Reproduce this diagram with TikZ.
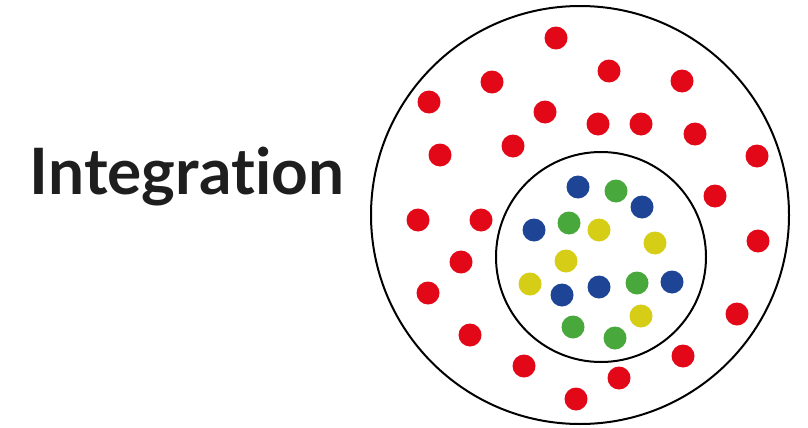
\documentclass[tikz,border=0pt]{standalone}
\usepackage{fontspec}
\setmainfont{Lato}[Ligatures=NoCommon]
\usepackage{tikz}
\definecolor{dotred}{RGB}{226,8,24}
\definecolor{dotblue}{RGB}{30,68,150}
\definecolor{dotgreen}{RGB}{72,168,60}
\definecolor{dotyellow}{RGB}{214,206,22}
\definecolor{inktext}{RGB}{30,30,30}

\begin{document}
\begin{tikzpicture}[
  x=0.5pt, y=-0.5pt,
  ring/.style={draw=black, line width=1pt},
  title/.style={font=\fontsize{32}{36}\selectfont\bfseries, text=inktext,
                inner sep=0pt, anchor=base},
]
\useasboundingbox (0,0) rectangle (808,428);

%% ---- Title ----
\node[title] (ttl) at (187,194) {Integration};

%% ---- Rings ----
\draw[ring] (580,215) circle[radius=209];
\draw[ring] (601,257) circle[radius=105];

%% ---- Outer dots ----
\foreach \px/\py in {556/38, 609/71, 492/82, 682/81, 429/102, 545/112,
  598/124, 641/124, 695/134, 440/155, 513/146, 757/156, 715/196,
  418/220, 481/220, 758/241, 461/262, 428/293, 737/314, 470/335,
  683/356, 524/366, 619/378, 576/399}
  \fill[dotred] (\px,\py) circle[radius=11.5];

%% ---- Inner dots ----
\foreach \px/\py in {578/187, 642/207, 534/230, 562/295, 599/287, 672/282}
  \fill[dotblue] (\px,\py) circle[radius=11.5];
\foreach \px/\py in {616/191, 569/223, 637/283, 573/327, 615/338}
  \fill[dotgreen] (\px,\py) circle[radius=11.5];
\foreach \px/\py in {599/230, 655/243, 566/261, 530/284, 641/316}
  \fill[dotyellow] (\px,\py) circle[radius=11.5];

\end{tikzpicture}
\end{document}
